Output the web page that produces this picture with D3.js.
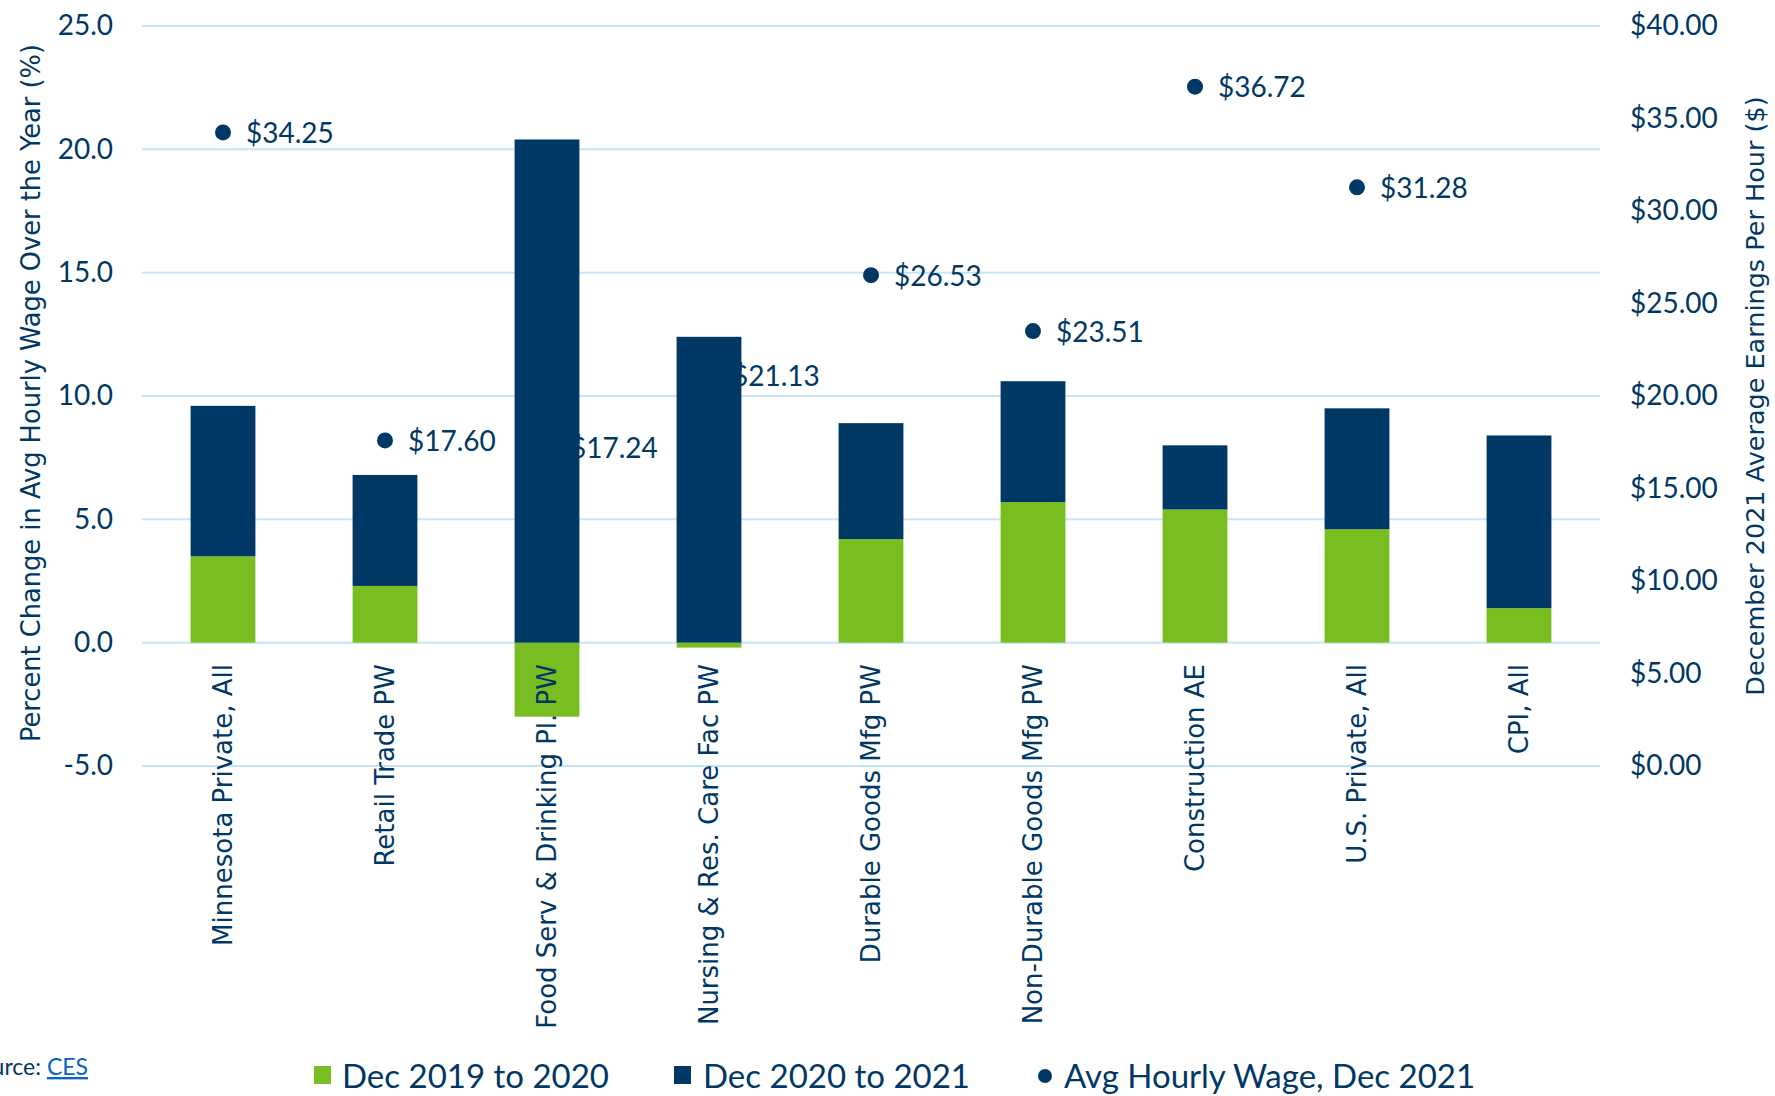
<!DOCTYPE html>
<html>
<head>
<meta charset="utf-8">
<script src="https://cdn.jsdelivr.net/npm/d3@7"></script>
<style>
  body { margin: 0; background: #fff; }
  svg { display: block; }
  text { fill: #003865; }
</style>
</head>
<body>
<script>
// categories and values
var categories = ["Minnesota Private, All", "Retail Trade PW", "Food Serv & Drinking Pl. PW",
    "Nursing & Res. Care Fac PW", "Durable Goods Mfg PW", "Non-Durable Goods Mfg PW",
    "Construction AE", "U.S. Private, All", "CPI, All"];
var change2020 = [3.5, 2.3, -3.0, -0.2, 4.2, 5.7, 5.4, 4.6, 1.4];
var change2021 = [6.1, 4.5, 20.4, 12.4, 4.7, 4.9, 2.6, 4.9, 7.0];
var wage2021 = [34.25, 17.60, 17.24, 21.13, 26.53, 23.51, 36.72, 31.28, null];
var leftTicks = [-5, 0, 5, 10, 15, 20, 25];
var rightTicks = [0, 5, 10, 15, 20, 25, 30, 35, 40];
var seriesNames = ["Dec 2019 to 2020", "Dec 2020 to 2021", "Avg Hourly Wage, Dec 2021"];

var green = "#78BE21", navy = "#003865", grid = "#C6E4F8";
var W = 1775, H = 1096;
var plotLeft = 142, plotRight = 1600, plotTop = 26, plotBottom = 766;

var svg = d3.select("body").append("svg")
    .attr("width", W).attr("height", H);

var x = d3.scaleBand().domain(categories).range([plotLeft, plotRight]);
var y = d3.scaleLinear().domain([-5, 25]).range([plotBottom, plotTop]);
var y2 = d3.scaleLinear().domain([0, 40]).range([plotBottom, plotTop]);
var barW = x.bandwidth() * 0.4;

// gridlines
svg.append("g").selectAll("line").data(leftTicks).enter().append("line")
    .attr("x1", plotLeft).attr("x2", plotRight)
    .attr("y1", d => y(d)).attr("y2", d => y(d))
    .attr("stroke", grid).attr("stroke-width", 2);

// left axis (plain hyphen for negatives, like the original)
var yAxis = d3.axisLeft(y).tickValues(leftTicks).tickFormat(d => d.toFixed(1)).tickSize(0).tickPadding(0);
var gl = svg.append("g").attr("transform", "translate(113,0)").call(yAxis);
gl.select(".domain").remove();
gl.selectAll("text").style("font-family", "Lato, sans-serif").style("font-size", "28px").attr("fill", navy);

// right axis
var yAxis2 = d3.axisRight(y2).tickValues(rightTicks).tickFormat(d => "$" + d.toFixed(2)).tickSize(0).tickPadding(0);
var gr = svg.append("g").attr("transform", "translate(1630,0)").call(yAxis2);
gr.select(".domain").remove();
gr.selectAll("text").style("font-family", "Lato, sans-serif").style("font-size", "28px").attr("fill", navy);

// wage dots + labels (drawn under bars)
var pts = categories.map((c, i) => ({c: c, v: wage2021[i]})).filter(d => d.v != null);
svg.append("g").selectAll("circle").data(pts).enter().append("circle")
    .attr("cx", d => x(d.c) + x.bandwidth() / 2)
    .attr("cy", d => y2(d.v))
    .attr("r", 8).attr("fill", navy);
svg.append("g").selectAll("text").data(pts).enter().append("text")
    .attr("x", d => x(d.c) + x.bandwidth() / 2 + 23)
    .attr("y", d => y2(d.v) + 1)
    .attr("dy", "0.35em")
    .style("font-family", "Lato, sans-serif").style("font-size", "28px")
    .text(d => "$" + d.v.toFixed(2));

// bars: green from 0, navy stacked on positive side
var bars = svg.append("g");
categories.forEach(function(c, i) {
    var bx = x(c) + (x.bandwidth() - barW) / 2;
    var g = change2020[i];
    bars.append("rect").attr("x", bx).attr("width", barW)
        .attr("y", y(Math.max(g, 0))).attr("height", Math.abs(y(g) - y(0)))
        .attr("fill", green);
    var base = Math.max(g, 0);
    bars.append("rect").attr("x", bx).attr("width", barW)
        .attr("y", y(base + change2021[i])).attr("height", y(base) - y(base + change2021[i]))
        .attr("fill", navy);
});

// category labels
svg.append("g").selectAll("text").data(categories).enter().append("text")
    .attr("transform", d => "translate(" + (x(d) + x.bandwidth() / 2) + ",664) rotate(-90)")
    .attr("text-anchor", "end").attr("dy", "0.35em")
    .style("font-family", "'DejaVu Sans', sans-serif").style("font-size", "26px")
    .text(d => d);

// axis titles
svg.append("text")
    .attr("transform", "translate(31,393) rotate(-90)")
    .attr("text-anchor", "middle").attr("dy", "0.35em")
    .style("font-family", "'DejaVu Sans', sans-serif").style("font-size", "25.7px")
    .text("Percent Change in Avg Hourly Wage Over the Year (%)");
svg.append("text")
    .attr("transform", "translate(1755,396) rotate(-90)")
    .attr("text-anchor", "middle").attr("dy", "0.35em")
    .style("font-family", "'DejaVu Sans', sans-serif").style("font-size", "25.5px")
    .text("December 2021 Average Earnings Per Hour ($)");

// legend
var leg = svg.append("g").style("font-family", "Lato, sans-serif").style("font-size", "33px");
leg.append("rect").attr("x", 314).attr("y", 1066).attr("width", 17).attr("height", 18).attr("fill", green);
leg.append("text").attr("x", 342).attr("y", 1076).attr("dy", "0.35em").text(seriesNames[0]);
leg.append("rect").attr("x", 674).attr("y", 1066).attr("width", 17).attr("height", 18).attr("fill", navy);
leg.append("text").attr("x", 703).attr("y", 1076).attr("dy", "0.35em").text(seriesNames[1]);
leg.append("circle").attr("cx", 1045).attr("cy", 1076).attr("r", 7).attr("fill", navy);
leg.append("text").attr("x", 1064).attr("y", 1076).attr("dy", "0.35em").text(seriesNames[2]);

// source note (cut off at left edge as in original)
var src = svg.append("text").attr("x", 88).attr("y", 1067).attr("dy", "0.35em")
    .attr("text-anchor", "end")
    .style("font-family", "Lato, sans-serif").style("font-size", "23px");
src.append("tspan").text("Source: ");
src.append("tspan").style("fill", "#0563C1").style("text-decoration", "underline").text("CES");
</script>
</body>
</html>
